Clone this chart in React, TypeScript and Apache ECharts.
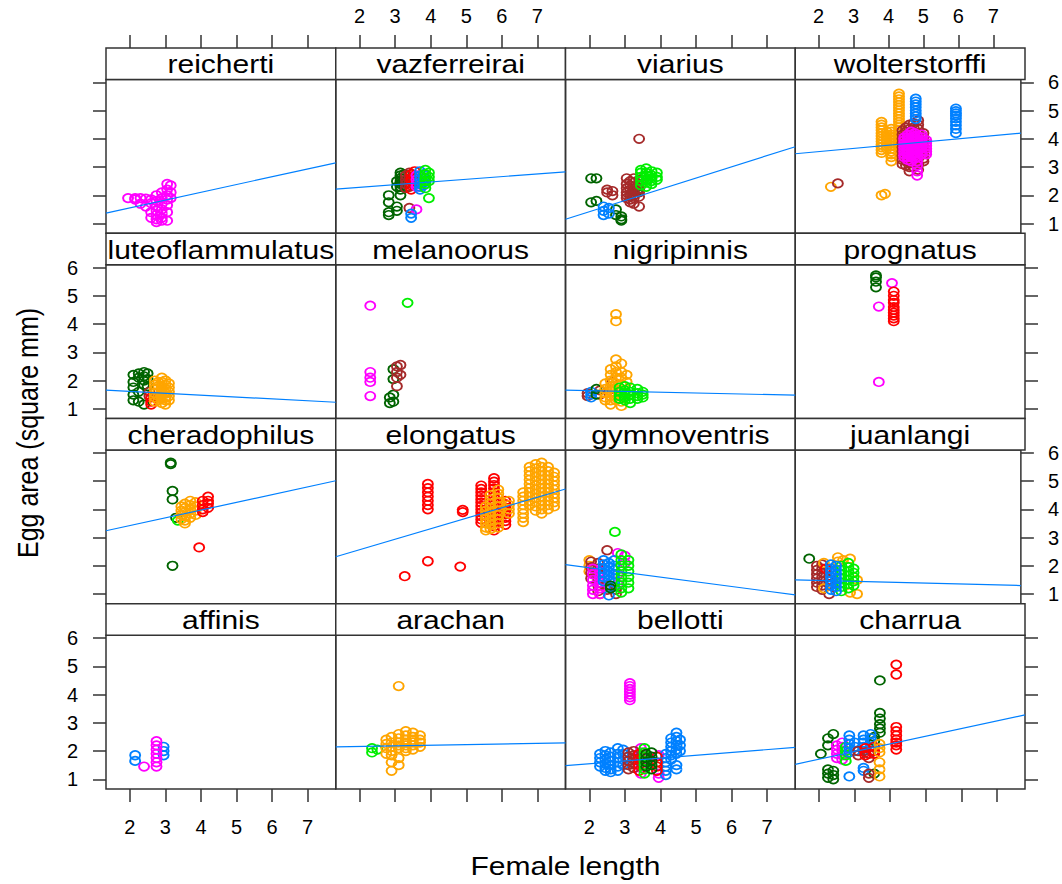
import React, { useEffect, useRef } from "react";
import * as echarts from "echarts";

type Group = [string, number, number[]];

const panelNames = [
  "reicherti", "vazferreirai", "viarius", "wolterstorffi",
  "luteoflammulatus", "melanoorus", "nigripinnis", "prognatus",
  "cheradophilus", "elongatus", "gymnoventris", "juanlangi",
  "affinis", "arachan", "bellotti", "charrua",
];

const xTicks = [2, 3, 4, 5, 6, 7];
const yTicks = [1, 2, 3, 4, 5, 6];
const X_MIN = 1.33;
const X_MAX = 7.79;
const Y_MIN = 0.655;
const Y_MAX = 6.1;

const xTitle = "Female length";
const yTitle = "Egg area (square mm)";

const palette: Record<string, string> = {
  blue: "#0080ff",
  magenta: "#ff00ff",
  darkgreen: "#006400",
  red: "#ff0000",
  orange: "#ffa500",
  green: "#00ee00",
  brown: "#a52a2a",
};

// [colour group, female length, egg areas]
const reicherti: Group[] = [
  ["magenta", 1.95, [1.9]],
  ["magenta", 2.15, [1.9, 1.85]],
  ["magenta", 2.3, [1.9, 1.7]],
  ["magenta", 2.45, [1.88, 1.6]],
  ["magenta", 2.6, [1.85, 1.72, 1.4, 1.2]],
  ["magenta", 2.75, [2.0, 1.8, 1.6, 1.45, 1.3, 1.15, 1.05]],
  ["magenta", 2.9, [2.1, 1.9, 1.7, 1.5, 1.35, 1.2, 1.1]],
  ["magenta", 3.05, [2.4, 2.2, 2.0, 1.85, 1.65, 1.4, 1.1]],
  ["magenta", 3.15, [2.35, 2.1, 1.9]],
];

const vazferreirai: Group[] = [
  ["darkgreen", 2.82, [2.0, 1.75, 1.4, 1.3]],
  ["darkgreen", 3.05, [2.5, 2.3, 1.6, 1.45]],
  ["darkgreen", 3.15, [2.8, 2.7, 2.6, 2.5, 2.4, 2.3, 2.2, 2.0]],
  ["darkgreen", 3.25, [2.75, 2.6, 2.5, 2.35]],
  ["brown", 3.3, [2.7, 2.55, 2.4, 2.25]],
  ["brown", 3.4, [2.8, 2.6, 2.45, 2.3, 1.55]],
  ["red", 3.45, [2.75, 2.6, 2.5, 2.35, 2.2]],
  ["red", 3.55, [2.85, 2.7, 2.5, 2.4]],
  ["magenta", 3.6, [2.7, 2.55, 2.4, 2.3, 1.5]],
  ["blue", 3.45, [1.2, 1.35]],
  ["blue", 3.7, [2.85, 2.7, 2.55, 2.4, 2.3, 2.2]],
  ["blue", 3.8, [2.75, 2.6, 2.45, 2.35]],
  ["green", 3.85, [2.9, 2.75, 2.6, 2.5, 2.4, 2.25]],
  ["green", 3.95, [2.8, 2.65, 2.5, 1.9]],
];

const viarius: Group[] = [
  ["darkgreen", 2.05, [2.6, 1.75]],
  ["darkgreen", 2.2, [2.6, 1.8]],
  ["blue", 2.4, [1.6, 1.45, 1.3]],
  ["blue", 2.55, [1.55, 1.35]],
  ["brown", 2.5, [2.2, 2.1]],
  ["brown", 2.65, [2.15, 2.0]],
  ["darkgreen", 2.75, [1.5, 1.3]],
  ["darkgreen", 2.9, [1.25, 1.15, 1.1]],
  ["brown", 3.05, [2.6, 2.4, 2.25, 2.1, 2.0, 1.9]],
  ["brown", 3.15, [2.5, 2.35, 2.2, 2.05, 1.95, 1.85, 1.75]],
  ["brown", 3.25, [2.6, 2.45, 2.3, 2.15, 2.0, 1.9, 1.7]],
  ["brown", 3.4, [4.0, 2.55, 2.4, 2.2, 2.1, 1.95, 1.6]],
  ["darkgreen", 3.35, [2.3, 2.15]],
  ["green", 3.45, [2.9, 2.8, 2.65, 2.5, 2.35]],
  ["green", 3.6, [2.95, 2.8, 2.7, 2.55, 2.45, 2.3]],
  ["green", 3.75, [2.85, 2.7, 2.6, 2.5, 2.4]],
  ["green", 3.9, [2.8, 2.65, 2.55]],
];

const wolterstorffi: Group[] = [
  ["orange", 2.35, [2.3]],
  ["brown", 2.55, [2.42]],
  ["orange", 3.8, [2.0, 4.6, 4.5, 4.4, 4.3, 4.2, 4.1, 4.0, 3.9, 3.8, 3.7, 3.6, 3.5]],
  ["orange", 3.9, [2.05]],
  ["orange", 3.95, [4.25, 4.15, 4.05, 3.95, 3.85, 3.75, 3.65]],
  ["orange", 4.08, [4.35, 4.25, 4.15, 4.05, 3.95, 3.85, 3.75, 3.65, 3.55, 3.45, 3.35, 3.2]],
  ["orange", 4.3, [5.6, 5.5, 5.4, 5.3, 5.2, 5.1, 5.0, 4.9, 4.8, 4.7, 4.6, 4.5, 4.4, 4.3, 4.2, 4.1, 4.0, 3.9, 3.8, 3.7]],
  ["blue", 4.78, [5.42, 5.32, 5.22, 5.12, 5.0, 4.9, 4.8, 4.7]],
  ["blue", 5.93, [5.07, 4.98, 4.9, 4.82, 4.72, 4.6, 4.48, 4.35, 4.2]],
  ["brown", 4.4, [4.3, 4.15, 4.0, 3.85, 3.7, 3.55, 3.4, 3.25, 3.1]],
  ["brown", 4.5, [4.4, 4.25, 4.1, 3.95, 3.8, 3.65, 3.5, 3.35, 3.2, 3.05]],
  ["brown", 4.6, [4.5, 4.35, 4.2, 4.05, 3.9, 3.75, 3.6, 3.45, 3.3, 3.15, 3.0, 2.85]],
  ["brown", 4.72, [4.55, 4.4, 4.25, 4.1, 3.95, 3.8, 3.6, 3.4, 3.2, 3.0]],
  ["brown", 4.85, [4.65, 4.5, 4.35, 4.2, 4.05, 3.9, 3.7, 3.5, 3.3, 3.1, 2.9]],
  ["brown", 5.0, [4.2, 4.05, 3.9, 3.75, 3.6, 3.45, 3.3, 3.2]],
  ["magenta", 4.45, [4.05, 3.95, 3.85, 3.75, 3.65, 3.55, 3.45, 3.35]],
  ["magenta", 4.55, [4.15, 4.05, 3.95, 3.85, 3.75, 3.65, 3.55, 3.45, 3.35, 3.25]],
  ["magenta", 4.65, [4.25, 4.15, 4.05, 3.95, 3.85, 3.75, 3.65, 3.55, 3.45, 3.35, 3.2]],
  ["magenta", 4.75, [4.2, 4.1, 4.0, 3.9, 3.8, 3.7, 3.6, 3.5, 3.4, 3.3]],
  ["magenta", 4.82, [4.1, 3.95, 3.8, 3.65, 3.5, 3.35, 3.2, 3.05, 2.85, 2.7]],
  ["magenta", 4.95, [4.15, 4.05, 3.95, 3.85, 3.75, 3.65, 3.55, 3.45]],
  ["magenta", 5.08, [3.95, 3.85, 3.75, 3.65, 3.55, 3.45]],
];

const luteoflammulatus: Group[] = [
  ["darkgreen", 2.1, [2.2, 1.95, 1.75, 1.5, 1.3]],
  ["darkgreen", 2.25, [2.25, 2.1, 1.6, 1.25]],
  ["darkgreen", 2.4, [2.3, 2.15, 2.0, 1.85, 1.15]],
  ["darkgreen", 2.5, [2.25, 2.05, 1.8]],
  ["brown", 2.55, [1.6, 1.45]],
  ["red", 2.6, [1.4, 1.25, 1.15]],
  ["orange", 2.7, [2.0, 1.85, 1.7, 1.55, 1.4, 1.25]],
  ["orange", 2.8, [1.95, 1.8, 1.6, 1.45, 1.3]],
  ["orange", 2.9, [2.1, 1.95, 1.8, 1.65, 1.5, 1.35, 1.2]],
  ["orange", 3.0, [2.0, 1.85, 1.7, 1.55, 1.4, 1.3, 1.15]],
  ["orange", 3.1, [1.9, 1.75, 1.6, 1.45, 1.3]],
];

const melanoorus: Group[] = [
  ["magenta", 2.3, [4.65, 2.3, 2.1, 1.95, 1.45]],
  ["darkgreen", 2.85, [1.4, 1.2]],
  ["darkgreen", 2.95, [2.4, 2.05, 1.5, 1.25]],
  ["brown", 3.05, [2.5, 2.3, 2.1, 1.8]],
  ["brown", 3.15, [2.55, 2.2]],
  ["green", 3.35, [4.75]],
];

const nigripinnis: Group[] = [
  ["brown", 1.95, [1.55, 1.45]],
  ["blue", 2.05, [1.6, 1.5, 1.4]],
  ["darkgreen", 2.2, [1.7, 1.5]],
  ["brown", 2.3, [1.65, 1.5]],
  ["orange", 2.45, [1.9, 1.7, 1.55, 1.4, 1.3]],
  ["orange", 2.6, [2.4, 2.2, 2.0, 1.8, 1.6, 1.45, 1.3, 1.15]],
  ["orange", 2.75, [4.35, 4.1, 2.75, 2.5, 2.3, 2.1, 1.9, 1.7, 1.5, 1.3]],
  ["orange", 2.9, [2.6, 2.3, 2.1, 1.85, 1.65, 1.45, 1.25, 1.1]],
  ["brown", 2.65, [1.95, 1.7]],
  ["green", 2.85, [1.75, 1.6, 1.45, 1.35]],
  ["green", 3.0, [1.8, 1.65, 1.5, 1.4, 1.3]],
  ["green", 3.15, [1.75, 1.6, 1.5, 1.35, 1.2]],
  ["green", 3.35, [1.7, 1.55, 1.45, 1.35]],
  ["green", 3.5, [1.6, 1.5, 1.4]],
  ["orange", 3.05, [2.2, 1.95]],
];

const prognatus: Group[] = [
  ["darkgreen", 3.6, [5.72, 5.65, 5.5, 5.3]],
  ["magenta", 3.68, [4.62, 1.95]],
  ["magenta", 4.05, [5.45]],
  ["red", 4.1, [5.15, 5.0, 4.85, 4.75, 4.6, 4.5, 4.4, 4.3, 4.2, 4.1]],
];

const cheradophilus: Group[] = [
  ["darkgreen", 3.15, [5.65, 5.6]],
  ["darkgreen", 3.2, [4.65, 4.35, 2.0]],
  ["darkgreen", 3.3, [3.7]],
  ["green", 3.35, [3.6]],
  ["orange", 3.45, [4.1, 3.95, 3.8, 3.65]],
  ["orange", 3.55, [4.2, 4.05, 3.9, 3.75, 3.6, 3.5]],
  ["orange", 3.7, [4.3, 4.15, 4.0, 3.85, 3.7]],
  ["orange", 3.85, [4.25, 4.1, 3.95, 3.8]],
  ["red", 4.05, [4.3, 4.15, 4.0, 3.9]],
  ["red", 4.2, [4.45, 4.3, 4.2, 4.05]],
  ["red", 3.95, [2.65]],
];

const elongatus: Group[] = [
  ["red", 3.27, [1.63]],
  ["red", 3.92, [4.9, 4.75, 4.6, 4.45, 4.3, 4.15, 4.0, 2.16]],
  ["red", 4.83, [1.97]],
  ["red", 4.9, [3.98, 3.9]],
  ["red", 5.42, [4.84, 4.72, 4.6, 4.48, 4.36, 4.24, 4.12, 4.0, 3.88, 3.76, 3.64, 3.52]],
  ["red", 5.78, [5.1, 4.98, 4.86, 4.74, 4.6, 4.45, 4.3, 4.15, 4.0, 3.85, 3.7, 3.55, 3.4, 3.25]],
  ["red", 6.1, [4.3, 4.18, 4.06, 3.94, 3.82, 3.7, 3.58, 3.45]],
  ["orange", 5.55, [4.1, 3.95, 3.8, 3.65, 3.5, 3.35, 3.25]],
  ["orange", 5.68, [4.5, 4.35, 4.2, 4.05, 3.9, 3.75, 3.6, 3.45, 3.3]],
  ["orange", 5.9, [4.7, 4.55, 4.4, 4.25, 4.1, 3.95, 3.8, 3.65, 3.5, 3.35]],
  ["orange", 6.2, [4.3, 4.15, 4.0, 3.85]],
  ["orange", 6.6, [4.6, 4.45, 4.3, 4.15, 4.0, 3.85, 3.7, 3.55]],
  ["orange", 6.78, [5.5, 5.35, 5.2, 5.05, 4.9, 4.75, 4.6, 4.45, 4.3, 4.15]],
  ["orange", 6.95, [5.6, 5.45, 5.3, 5.15, 5.0, 4.85, 4.7, 4.55, 4.4, 4.25, 4.1, 3.95]],
  ["orange", 7.12, [5.65, 5.5, 5.35, 5.2, 5.05, 4.9, 4.75, 4.6, 4.45, 4.3, 4.15, 4.0, 3.85]],
  ["orange", 7.3, [5.5, 5.35, 5.2, 5.05, 4.9, 4.75, 4.6, 4.45, 4.3, 4.15, 4.0]],
  ["orange", 7.47, [5.3, 5.15, 5.0, 4.85, 4.7, 4.55, 4.4, 4.25, 4.1]],
];

const gymnoventris: Group[] = [
  ["orange", 2.0, [2.2, 2.0, 1.8]],
  ["brown", 2.05, [2.15, 1.95, 1.75, 1.55]],
  ["magenta", 2.1, [1.9, 1.7, 1.5, 1.3, 1.15, 1.0]],
  ["brown", 2.25, [2.1, 1.9, 1.7, 1.5, 1.3, 1.1]],
  ["magenta", 2.3, [1.8, 1.6, 1.4, 1.2, 1.0]],
  ["orange", 2.3, [1.0]],
  ["blue", 2.4, [2.2, 2.05, 1.9, 1.75, 1.6, 1.45]],
  ["brown", 2.5, [2.55, 1.3, 1.15]],
  ["blue", 2.55, [2.1, 1.95, 1.8, 1.65, 1.5, 0.95]],
  ["darkgreen", 2.6, [1.3, 1.2]],
  ["blue", 2.7, [2.2, 2.0, 1.85, 1.7, 1.55, 1.4, 1.25]],
  ["green", 2.72, [3.2]],
  ["magenta", 2.8, [2.45, 1.7, 1.35]],
  ["brown", 2.75, [1.15, 1.0]],
  ["green", 2.9, [2.4, 2.2, 2.0, 1.8, 1.6, 1.4, 1.2, 1.05]],
  ["magenta", 3.0, [2.35, 2.1]],
  ["green", 3.1, [2.2, 2.0, 1.8, 1.6, 1.4, 1.2]],
];

const juanlangi: Group[] = [
  ["darkgreen", 1.73, [2.25]],
  ["brown", 1.95, [2.0, 1.85, 1.7, 1.55, 1.4, 1.25]],
  ["brown", 2.1, [2.05, 1.9, 1.75, 1.6, 1.45, 1.3, 1.15]],
  ["orange", 2.15, [2.1, 1.2]],
  ["red", 2.2, [1.9]],
  ["brown", 2.3, [1.85, 1.65, 1.5, 1.35, 1.0]],
  ["orange", 2.55, [2.3, 2.15]],
  ["orange", 2.7, [2.2]],
  ["green", 2.65, [2.0, 1.85, 1.7, 1.55, 1.4, 1.25, 1.1]],
  ["green", 2.85, [2.1, 1.95, 1.8, 1.65, 1.5, 1.35, 1.2]],
  ["green", 3.0, [1.9, 1.75, 1.6, 1.45, 1.3]],
  ["orange", 2.9, [2.25, 1.05]],
  ["orange", 3.1, [1.5, 1.0]],
  ["blue", 2.35, [2.05, 1.9, 1.75, 1.6, 1.45, 1.3, 1.15]],
  ["blue", 2.5, [2.0, 1.85, 1.7, 1.55, 1.4, 1.25, 1.1]],
];

const affinis: Group[] = [
  ["blue", 2.15, [1.85, 1.65]],
  ["magenta", 2.4, [1.45]],
  ["magenta", 2.75, [2.35, 2.2, 2.05, 1.9, 1.75, 1.6, 1.45]],
  ["blue", 2.95, [2.15, 2.0, 1.85]],
];

const arachan: Group[] = [
  ["green", 2.35, [2.1, 1.95]],
  ["green", 2.5, [2.05]],
  ["orange", 2.75, [2.4, 2.25, 2.1, 1.9]],
  ["orange", 2.9, [2.5, 2.3, 2.15, 2.0, 1.85, 1.6, 1.3]],
  ["orange", 3.1, [4.3, 2.6, 2.45, 2.3, 2.2, 2.1, 1.75, 1.5]],
  ["orange", 3.3, [2.7, 2.55, 2.4, 2.3, 2.2, 2.1, 2.0]],
  ["orange", 3.5, [2.65, 2.5, 2.4, 2.3, 2.2, 2.05]],
  ["orange", 3.7, [2.55, 2.4, 2.3, 2.15]],
];

const bellotti: Group[] = [
  ["magenta", 3.14, [4.4, 4.3, 4.2, 4.1, 4.0, 3.9, 3.8]],
  ["blue", 2.3, [1.9, 1.75, 1.6, 1.45]],
  ["blue", 2.45, [2.0, 1.85, 1.7, 1.55, 1.4, 1.3]],
  ["blue", 2.6, [1.95, 1.8, 1.65, 1.5, 1.35, 1.25]],
  ["blue", 2.8, [2.1, 1.9, 1.75, 1.6, 1.45, 1.3]],
  ["blue", 2.95, [2.05, 1.9, 1.7, 1.5]],
  ["brown", 3.1, [1.95, 1.8, 1.65, 1.5, 1.35]],
  ["brown", 3.25, [2.0, 1.85, 1.7, 1.55, 1.4]],
  ["red", 3.4, [1.9, 1.7, 1.5, 1.3]],
  ["magenta", 3.45, [2.1, 1.95, 1.8, 1.6, 1.4, 1.2]],
  ["green", 3.55, [2.1, 1.95, 1.8, 1.65, 1.5, 1.35, 1.2]],
  ["darkgreen", 3.6, [1.9, 1.75, 1.6, 1.45]],
  ["darkgreen", 3.75, [1.95, 1.8, 1.65, 1.5, 1.35]],
  ["red", 3.9, [1.8, 1.6, 1.45, 1.3]],
  ["magenta", 3.95, [1.85, 1.2, 1.05]],
  ["blue", 4.15, [1.9, 1.75, 1.6, 1.45, 1.3, 1.15]],
  ["blue", 4.3, [2.45, 2.3, 2.15, 2.0, 1.85, 1.7]],
  ["blue", 4.45, [2.65, 2.5, 2.35, 2.2, 2.05, 1.9, 1.5, 1.35]],
  ["blue", 4.55, [2.4, 2.2, 2.0]],
];

const charrua: Group[] = [
  ["darkgreen", 2.05, [1.9]],
  ["darkgreen", 2.25, [2.45, 2.2, 1.35, 1.2, 1.05]],
  ["darkgreen", 2.4, [2.6, 1.3, 1.15, 1.0]],
  ["magenta", 2.5, [2.2, 2.05, 1.9, 1.75]],
  ["magenta", 2.65, [2.3, 2.15, 2.0, 1.85, 1.7]],
  ["green", 2.75, [2.15, 2.0, 1.85, 1.65]],
  ["blue", 2.85, [2.55, 2.4, 2.25, 2.1, 1.95, 1.1]],
  ["blue", 3.0, [2.3, 2.15, 2.0]],
  ["brown", 3.1, [2.0, 1.85]],
  ["blue", 3.25, [2.55, 2.4, 2.3, 2.15, 2.0, 1.4, 1.3]],
  ["blue", 3.45, [2.6, 2.45, 2.3, 2.15, 2.0]],
  ["brown", 3.4, [1.9, 1.75, 1.2, 1.05]],
  ["red", 3.3, [2.1, 1.95, 1.85]],
  ["red", 3.55, [2.15, 2.0, 1.9]],
  ["darkgreen", 3.55, [2.5, 2.35, 1.2]],
  ["orange", 3.7, [2.25, 2.1, 1.95, 1.6, 1.35, 1.1]],
  ["darkgreen", 3.71, [4.5, 3.35, 3.15, 2.95, 2.8, 2.65]],
  ["red", 4.17, [5.06, 4.71, 2.85, 2.7, 2.55, 2.4, 2.3, 2.2, 2.05]],
];

const panelPoints: Group[][] = [
  reicherti, vazferreirai, viarius, wolterstorffi,
  luteoflammulatus, melanoorus, nigripinnis, prognatus,
  cheradophilus, elongatus, gymnoventris, juanlangi,
  affinis, arachan, bellotti, charrua,
];

// fitted line: [egg area at X_MIN, egg area at X_MAX]; null = no line
const fitLines: (number[] | null)[] = [
  [1.37, 3.15], [2.22, 2.83], [1.15, 3.72], [3.47, 4.2],
  [1.66, 1.23], null, [1.66, 1.48], null,
  [3.24, 5.01], [2.32, 4.72], [2.04, 0.97], [1.5, 1.3],
  null, [2.15, 2.29], [1.48, 2.13], [1.53, 3.28],
];

const FONT = "'Liberation Sans', Arial, Helvetica, sans-serif";
const LINE_COL = "#333333";
const LEFT0 = 106;
const COL_W = 229.75;
const TOP0 = 48;
const ROW_H = 185.25;
const STRIP_H = 31.5;
const PANEL_H = ROW_H - STRIP_H;

function buildOption() {
  const grid: any[] = [];
  const xAxis: any[] = [];
  const yAxis: any[] = [];
  const series: any[] = [];
  const graphic: any[] = [];

  const tickStyle = { color: LINE_COL, width: 1.5 };
  const labelStyle = { fontSize: 20, color: "#000", fontFamily: FONT };

  for (let r = 0; r < 4; r++) {
    for (let c = 0; c < 4; c++) {
      const i = r * 4 + c;
      const left = LEFT0 + c * COL_W;
      const stripTop = TOP0 + r * ROW_H;
      const top = stripTop + STRIP_H;
      grid.push({
        left, top, width: COL_W, height: PANEL_H,
        show: true, borderColor: LINE_COL, borderWidth: 1.5,
        backgroundColor: "transparent",
      });
      const xi = xAxis.length;
      xAxis.push({
        type: "value", gridIndex: i, position: "bottom",
        min: X_MIN, max: X_MAX,
        axisLine: { show: false }, splitLine: { show: false },
        axisTick: { show: r === 3, inside: false, length: 13, customValues: xTicks, lineStyle: tickStyle },
        axisLabel: { show: r === 3 && (c === 0 || c === 2), customValues: xTicks, margin: 28, ...labelStyle },
      });
      if (r === 0) {
        xAxis.push({
          type: "value", gridIndex: i, position: "top", offset: STRIP_H,
          min: X_MIN, max: X_MAX,
          axisLine: { show: false }, splitLine: { show: false },
          axisTick: { show: true, inside: false, length: 13, customValues: xTicks, lineStyle: tickStyle },
          axisLabel: { show: c === 1 || c === 3, customValues: xTicks, margin: 22, ...labelStyle },
        });
      }
      const yi = yAxis.length;
      yAxis.push({
        type: "value", gridIndex: i, position: "left",
        min: Y_MIN, max: Y_MAX,
        axisLine: { show: false }, splitLine: { show: false },
        axisTick: { show: c === 0, inside: false, length: 13, customValues: yTicks, lineStyle: tickStyle },
        axisLabel: { show: c === 0 && (r === 1 || r === 3), customValues: yTicks, margin: 28, ...labelStyle },
      });
      if (c === 3) {
        yAxis.push({
          type: "value", gridIndex: i, position: "right",
          min: Y_MIN, max: Y_MAX,
          axisLine: { show: false }, splitLine: { show: false },
          axisTick: { show: true, inside: false, length: 13, customValues: yTicks, lineStyle: tickStyle },
          axisLabel: { show: r === 0 || r === 2, customValues: yTicks, margin: 27, ...labelStyle },
        });
      }

      const order: string[] = [];
      const byColour: Record<string, number[][]> = {};
      for (const [col, x, ys] of panelPoints[i]) {
        if (!byColour[col]) { byColour[col] = []; order.push(col); }
        for (const y of ys) byColour[col].push([x, y]);
      }
      for (const col of order) {
        series.push({
          type: "scatter", name: panelNames[i] + "-" + col,
          xAxisIndex: xi, yAxisIndex: yi,
          data: byColour[col],
          symbol: "circle", symbolSize: [10, 8.5],
          itemStyle: { color: "rgba(0,0,0,0)", borderColor: palette[col], borderWidth: 1.8, opacity: 1 },
          silent: true, z: 2,
        });
      }
      const fl = fitLines[i];
      if (fl) {
        series.push({
          type: "line", xAxisIndex: xi, yAxisIndex: yi,
          data: [[X_MIN, fl[0]], [X_MAX, fl[1]]],
          showSymbol: false, symbol: "none",
          lineStyle: { color: palette.blue, width: 1.2 },
          silent: true, z: 3,
        });
      }

      graphic.push({
        type: "rect", z: 10,
        shape: { x: left, y: stripTop, width: COL_W, height: STRIP_H },
        style: { fill: "#fff", stroke: LINE_COL, lineWidth: 1.5 },
      });
      graphic.push({
        type: "text", z: 11,
        x: left + COL_W / 2, y: stripTop + STRIP_H / 2 + 1, scaleX: 1.2,
        style: { text: panelNames[i], x: 0, y: 0, align: "center", verticalAlign: "middle", fontSize: 25, fontFamily: FONT, fill: "#000" },
      });
    }
  }

  graphic.push({
    type: "text", z: 11,
    x: LEFT0 + 2 * COL_W, y: 866, scaleX: 1.2,
    style: { text: xTitle, x: 0, y: 0, align: "center", verticalAlign: "middle", fontSize: 25, fontFamily: FONT, fill: "#000" },
  });
  graphic.push({
    type: "text", z: 11,
    x: 28, y: 433, rotation: Math.PI / 2, scaleY: 1.2,
    style: { text: yTitle, x: 0, y: 0, align: "center", verticalAlign: "middle", fontSize: 25, fontFamily: FONT, fill: "#000" },
  });

  return {
    animation: false,
    backgroundColor: "#ffffff",
    grid, xAxis, yAxis, series, graphic,
  };
}

export default function App() {
  const ref = useRef<HTMLDivElement>(null);
  useEffect(() => {
    if (!ref.current) return;
    const chart = echarts.init(ref.current, undefined, { renderer: "svg" });
    chart.setOption(buildOption());
    return () => chart.dispose();
  }, []);
  return (
    <div
      ref={ref}
      style={{ position: "absolute", left: 0, top: 0, width: 1062, height: 884, background: "#fff" }}
    />
  );
}
